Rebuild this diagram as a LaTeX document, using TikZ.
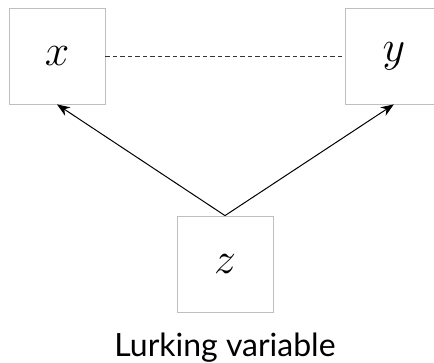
\documentclass[tikz,border=0pt]{standalone}
\usepackage{fix-cm}
\usepackage{fontspec}
\setmainfont{Lato}
\usepackage{tikz}
\usetikzlibrary{arrows.meta,positioning}

\begin{document}
\begin{tikzpicture}[
    x=1pt, y=1pt,
    node distance=240pt,
    varbox/.style={rectangle, draw=black!25, line width=0.8pt, minimum width=96pt, minimum height=96pt, inner sep=0pt, font=\fontsize{44}{44}\selectfont},
    cause/.style={-{Stealth[length=13pt, width=10pt]}, line width=1pt},
    link/.style={dashed, dash pattern=on 4.5pt off 3pt, line width=1pt, black!80}
]
\useasboundingbox (0,0) rectangle (434,-362);

% Observed variables
\node[varbox] (x) at (57,-56) {$x$};
\node[varbox, right=of x] (y) {$y$};

% Hidden cause
\node[varbox] (z) at (225,-264) {$z$};
\node[below=20pt of z, inner sep=0pt, font=\fontsize{32}{32}\selectfont] (lurk) {Lurking variable};

% Links
\draw[link] (x) -- (y);
\draw[cause] (z.north) -- (x.south);
\draw[cause] (z.north) -- (y.south);

\end{tikzpicture}
\end{document}
